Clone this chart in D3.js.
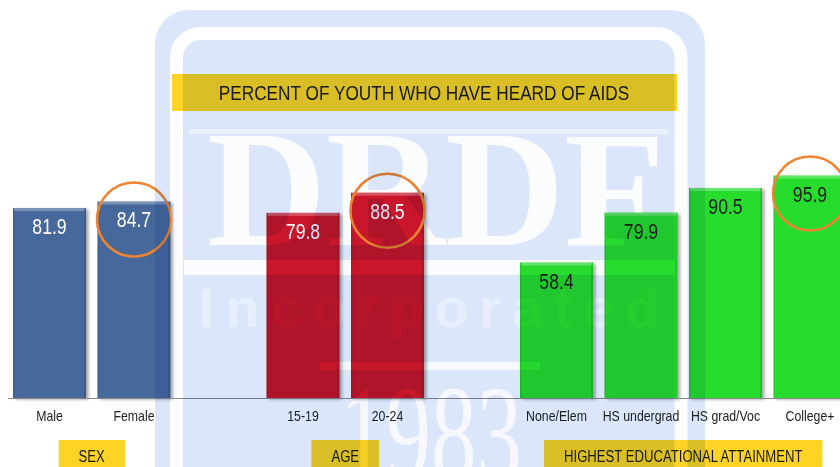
<!DOCTYPE html>
<html>
<head>
<meta charset="utf-8">
<script src="https://cdn.jsdelivr.net/npm/d3@7"></script>
<style>
  html, body { margin: 0; padding: 0; background: #ffffff; }
  svg { display: block; }
  .narrow { font-family: "Liberation Sans", Arial, sans-serif; }
</style>
</head>
<body>
<script>
// ---------- data ----------
const title = "PERCENT OF YOUTH WHO HAVE HEARD OF AIDS";
const categories = ["Male", "Female", "15-19", "20-24", "None/Elem", "HS undergrad", "HS grad/Voc", "College+"];
const values = [81.9, 84.7, 79.8, 88.5, 58.4, 79.9, 90.5, 95.9];
const groupOf = ["SEX", "SEX", "AGE", "AGE",
  "HIGHEST EDUCATIONAL ATTAINMENT", "HIGHEST EDUCATIONAL ATTAINMENT",
  "HIGHEST EDUCATIONAL ATTAINMENT", "HIGHEST EDUCATIONAL ATTAINMENT"];
const groupNames = ["SEX", "AGE", "HIGHEST EDUCATIONAL ATTAINMENT"];
const highlighted = ["Female", "20-24", "College+"];

// ---------- styles ----------
const groupColor = { "SEX": "#46679a", "AGE": "#cd1829", "HIGHEST EDUCATIONAL ATTAINMENT": "#27dd2d" };
const labelColor = { "SEX": "#ffffff", "AGE": "#ffffff", "HIGHEST EDUCATIONAL ATTAINMENT": "#1a1a1a" };
const yellow = "#fdd325";
const NARROW = 0.82;

// condense a text element horizontally (narrow-font look)
function condense(sel) {
  sel.each(function () {
    const w = this.getComputedTextLength();
    if (w > 0) d3.select(this).attr("textLength", w * NARROW).attr("lengthAdjust", "spacingAndGlyphs");
  });
}

const W = 840, H = 467;
const svg = d3.select("body").append("svg").attr("width", W).attr("height", H);

const defs = svg.append("defs");
const f = defs.append("filter").attr("id", "shadow").attr("x", "-10%").attr("y", "-10%").attr("width", "130%").attr("height", "130%");
f.append("feDropShadow").attr("dx", 2.5).attr("dy", 1.5).attr("stdDeviation", 1.6)
  .attr("flood-color", "#000").attr("flood-opacity", 0.35);

// slots: categories with spacer slots between groups
const slots = [];
let prevGroup = null;
categories.forEach((c, i) => {
  if (prevGroup !== null && groupOf[i] !== prevGroup) slots.push("__gap" + i);
  slots.push(c);
  prevGroup = groupOf[i];
});

const x = d3.scaleBand().domain(slots).range([7.25, 852.25]).paddingInner(0.136).paddingOuter(0.068);
const y = d3.scaleLinear().domain([0, 100]).range([398, 166]);

const data = categories.map((c, i) => ({ cat: c, value: values[i], group: groupOf[i] }));

// title
const titleG = svg.append("g");
titleG.append("rect").attr("x", 172).attr("y", 74).attr("width", 505).attr("height", 37).attr("fill", yellow);
titleG.append("text").attr("class", "narrow")
  .attr("x", 424).attr("y", 100).attr("text-anchor", "middle")
  .attr("font-size", 21).attr("fill", "#1a1a1a").text(title).call(condense);

// bars
const bars = svg.append("g");
bars.selectAll("rect.bar").data(data).join("rect").attr("class", "bar")
  .attr("x", d => x(d.cat)).attr("width", x.bandwidth())
  .attr("y", d => y(d.value)).attr("height", d => y(0) - y(d.value))
  .attr("fill", d => groupColor[d.group]).attr("filter", "url(#shadow)");
bars.selectAll("rect.hl").data(data).join("rect").attr("class", "hl")
  .attr("x", d => x(d.cat) + 1).attr("width", x.bandwidth() - 2)
  .attr("y", d => y(d.value)).attr("height", 3)
  .attr("fill", "#ffffff").attr("opacity", 0.28);
bars.selectAll("rect.edgeR").data(data).join("rect").attr("class", "edgeR")
  .attr("x", d => x(d.cat) + x.bandwidth() - 2).attr("width", 2)
  .attr("y", d => y(d.value)).attr("height", d => y(0) - y(d.value))
  .attr("fill", "#000").attr("opacity", 0.12);
bars.selectAll("rect.edgeL").data(data).join("rect").attr("class", "edgeL")
  .attr("x", d => x(d.cat)).attr("width", 1.5)
  .attr("y", d => y(d.value)).attr("height", d => y(0) - y(d.value))
  .attr("fill", "#000").attr("opacity", 0.08);

// value labels
svg.append("g").selectAll("text").data(data).join("text").attr("class", "narrow")
  .attr("x", d => x(d.cat) + x.bandwidth() / 2)
  .attr("y", d => y(d.value) + 26)
  .attr("text-anchor", "middle").attr("font-size", 21.5)
  .attr("fill", d => labelColor[d.group]).text(d => d.value.toFixed(1)).call(condense);

// highlight circles
svg.append("g").selectAll("circle").data(data.filter(d => highlighted.includes(d.cat))).join("circle")
  .attr("cx", d => x(d.cat) + x.bandwidth() / 2)
  .attr("cy", d => y(d.value) + 18)
  .attr("r", 37).attr("fill", "none").attr("stroke", "#ef8430").attr("stroke-width", 2.6);

// axis
const axis = d3.axisBottom(x).tickSize(0).tickPadding(12)
  .tickFormat(d => d.startsWith("__gap") ? "" : d);
const ax = svg.append("g").attr("transform", `translate(0,${y(0)})`).call(axis);
ax.select(".domain").attr("stroke", "#8a8a8a").attr("stroke-width", 1.2);
ax.selectAll("text").attr("class", "narrow").attr("font-size", 15).attr("fill", "#222").call(condense);

// group label boxes
const gl = svg.append("g");
groupNames.forEach(g => {
  const cats = categories.filter((c, i) => groupOf[i] === g);
  const cx = (x(cats[0]) + x(cats[cats.length - 1]) + x.bandwidth()) / 2;
  const t = gl.append("text").attr("class", "narrow").attr("x", cx).attr("y", 462)
    .attr("text-anchor", "middle").attr("font-size", 16).attr("fill", "#1a1a1a").text(g);
  const tw = t.node().getComputedTextLength() * NARROW;
  t.call(condense);
  gl.insert("rect", "text").attr("x", cx - tw / 2 - 20).attr("y", 440)
    .attr("width", tw + 40).attr("height", 30).attr("fill", yellow);
});

// watermark (multiply over everything)
const wm = svg.append("g").style("mix-blend-mode", "multiply");
wm.append("rect").attr("x", 155).attr("y", 10).attr("width", 550).attr("height", 520).attr("rx", 34).attr("fill", "#dbe6fb");
wm.append("rect").attr("x", 176.5).attr("y", 33.5).attr("width", 504.5).attr("height", 520).attr("rx", 24)
  .attr("fill", "none").attr("stroke", "#ffffff").attr("stroke-width", 13);
wm.append("rect").attr("x", 190).attr("y", 129).attr("width", 478).attr("height", 5).attr("fill", "#fff").attr("opacity", 0.45);
wm.append("text").attr("x", 207).attr("y", 245).attr("font-family", "Liberation Serif, Times New Roman, serif")
  .attr("font-weight", "bold").attr("font-size", 166).attr("textLength", 458).attr("lengthAdjust", "spacingAndGlyphs")
  .attr("fill", "#ffffff").attr("opacity", 0.9).text("DRDF");
wm.append("rect").attr("x", 184).attr("y", 260).attr("width", 491).attr("height", 15).attr("fill", "#fff").attr("opacity", 0.85);
wm.append("text").attr("x", 199).attr("y", 327).attr("font-family", "Liberation Sans, Arial, sans-serif")
  .attr("font-weight", "bold").attr("font-size", 55).attr("textLength", 460).attr("lengthAdjust", "spacing")
  .attr("fill", "#ffffff").attr("opacity", 0.35).text("Incorporated");
wm.append("rect").attr("x", 320).attr("y", 362).attr("width", 220).attr("height", 8).attr("fill", "#fff").attr("opacity", 0.75);
wm.append("text").attr("x", 340).attr("y", 482).attr("font-family", "Liberation Serif, Times New Roman, serif")
  .attr("font-size", 140).attr("textLength", 182).attr("lengthAdjust", "spacingAndGlyphs")
  .attr("fill", "#ffffff").attr("opacity", 0.75).text("1983");
</script>
</body>
</html>
